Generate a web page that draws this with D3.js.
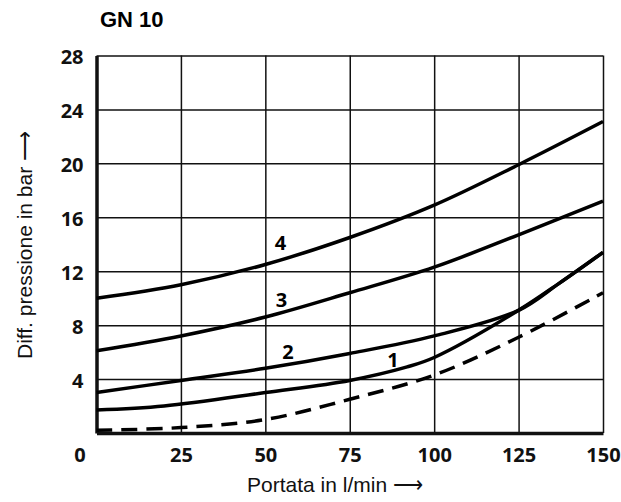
<!DOCTYPE html>
<html>
<head>
<meta charset="utf-8">
<script src="https://cdn.jsdelivr.net/npm/d3@7"></script>
<style>
  body { margin: 0; background: #fff; }
  svg { display: block; }
  .tick text { font-family: "Open Sans", sans-serif; font-weight: bold; font-size: 20px; fill: #111; }
  .grid line { stroke: #111; stroke-width: 1.5; }
  .axis-title { font-family: "Liberation Sans", Arial, sans-serif; font-size: 21px; fill: #111; }
</style>
</head>
<body>
<svg id="chart"></svg>
<script>
// flow rate (l/min) and pressure drop (bar) for each curve
const curve4x = [0, 25, 50, 75, 100, 125, 150];
const curve4y = [10.0, 11.0, 12.5, 14.5, 16.9, 19.9, 23.1];
const curve3x = [0, 25, 50, 75, 100, 125, 150];
const curve3y = [6.1, 7.2, 8.6, 10.4, 12.3, 14.7, 17.2];
const curve2x = [0, 25, 50, 75, 100, 125, 137, 150];
const curve2y = [3.0, 3.9, 4.8, 5.9, 7.2, 9.1, 11.1, 13.4];
const curve1x = [0, 20, 50, 75, 92, 100, 125, 137, 150];
const curve1y = [1.7, 2.0, 3.0, 3.9, 4.9, 5.6, 9.1, 11.1, 13.4];
const dashedx = [0, 25, 50, 75, 100, 125, 150];
const dashedy = [0.2, 0.4, 1.0, 2.5, 4.3, 7.1, 10.4];

const curveNames = ["4", "3", "2", "1"];
const labelX = [54.5, 54.8, 56.7, 87.8];
const labelY = [14.1, 9.9, 6.0, 5.4];

const xTicks = [0, 25, 50, 75, 100, 125, 150];
const yTicks = [4, 8, 12, 16, 20, 24, 28];

const width = 621, height = 502;
const margin = { top: 55.5, right: 18, bottom: 69, left: 96.5 };
const w = width - margin.left - margin.right;
const h = height - margin.top - margin.bottom;

const svg = d3.select("#chart").attr("width", width).attr("height", height);
const g = svg.append("g").attr("transform", `translate(${margin.left},${margin.top})`);

const x = d3.scaleLinear().domain([0, 150]).range([0, w]);
const y = d3.scaleLinear().domain([0, 28]).range([h, 0]);

// grid
g.append("g").attr("class", "grid")
  .attr("transform", `translate(0,${h})`)
  .call(d3.axisBottom(x).tickValues(xTicks.slice(1)).tickSize(-h).tickFormat(""))
  .call(s => s.select(".domain").remove());
g.append("g").attr("class", "grid")
  .call(d3.axisLeft(y).tickValues(yTicks).tickSize(-w).tickFormat(""))
  .call(s => s.select(".domain").remove());

// axes with tick labels
const xAxis = g.append("g")
  .attr("transform", `translate(0,${h})`)
  .call(d3.axisBottom(x).tickValues(xTicks).tickSize(0).tickPadding(11));
xAxis.select(".domain").attr("stroke", "#111").attr("stroke-width", 3.5);
xAxis.selectAll(".tick text").attr("dy", "0.9em")
  .filter(d => d === 0).attr("dx", -17);

const yAxis = g.append("g")
  .call(d3.axisLeft(y).tickValues(yTicks).tickSize(0).tickPadding(13));
yAxis.select(".domain").attr("stroke", "#111").attr("stroke-width", 3.5);
yAxis.selectAll(".tick text").attr("dy", "0.4em");

// curves
const line = d3.line()
  .x(d => x(d[0]))
  .y(d => y(d[1]))
  .curve(d3.curveCatmullRom.alpha(0.5));

const series = [
  [curve4x, curve4y, null],
  [curve3x, curve3y, null],
  [curve2x, curve2y, null],
  [curve1x, curve1y, null],
  [dashedx, dashedy, "16,9"]
];

series.forEach(([xs, ys, dash]) => {
  g.append("path")
    .datum(xs.map((v, i) => [v, ys[i]]))
    .attr("d", line)
    .attr("fill", "none")
    .attr("stroke", "#000")
    .attr("stroke-width", 3.5)
    .attr("stroke-dasharray", dash);
});

// curve labels
g.selectAll(".clabel")
  .data(curveNames)
  .enter()
  .append("text")
  .attr("class", "clabel")
  .attr("x", (d, i) => x(labelX[i]))
  .attr("y", (d, i) => y(labelY[i]))
  .attr("dy", "0.36em")
  .attr("text-anchor", "middle")
  .style("font-family", "'Open Sans', sans-serif")
  .style("font-weight", "bold")
  .style("font-size", "20px")
  .text(d => d);

// titles
svg.append("text")
  .attr("x", 100)
  .attr("y", 27)
  .style("font-family", "'Liberation Sans', Arial, sans-serif")
  .style("font-weight", "bold")
  .style("font-size", "22px")
  .text("GN 10");

svg.append("text")
  .attr("class", "axis-title")
  .attr("x", 335)
  .attr("y", 492)
  .attr("text-anchor", "middle")
  .text("Portata in l/min ⟶");

svg.append("text")
  .attr("class", "axis-title")
  .attr("transform", "translate(32,245) rotate(-90)")
  .attr("text-anchor", "middle")
  .text("Diff. pressione in bar ⟶");
</script>
</body>
</html>
